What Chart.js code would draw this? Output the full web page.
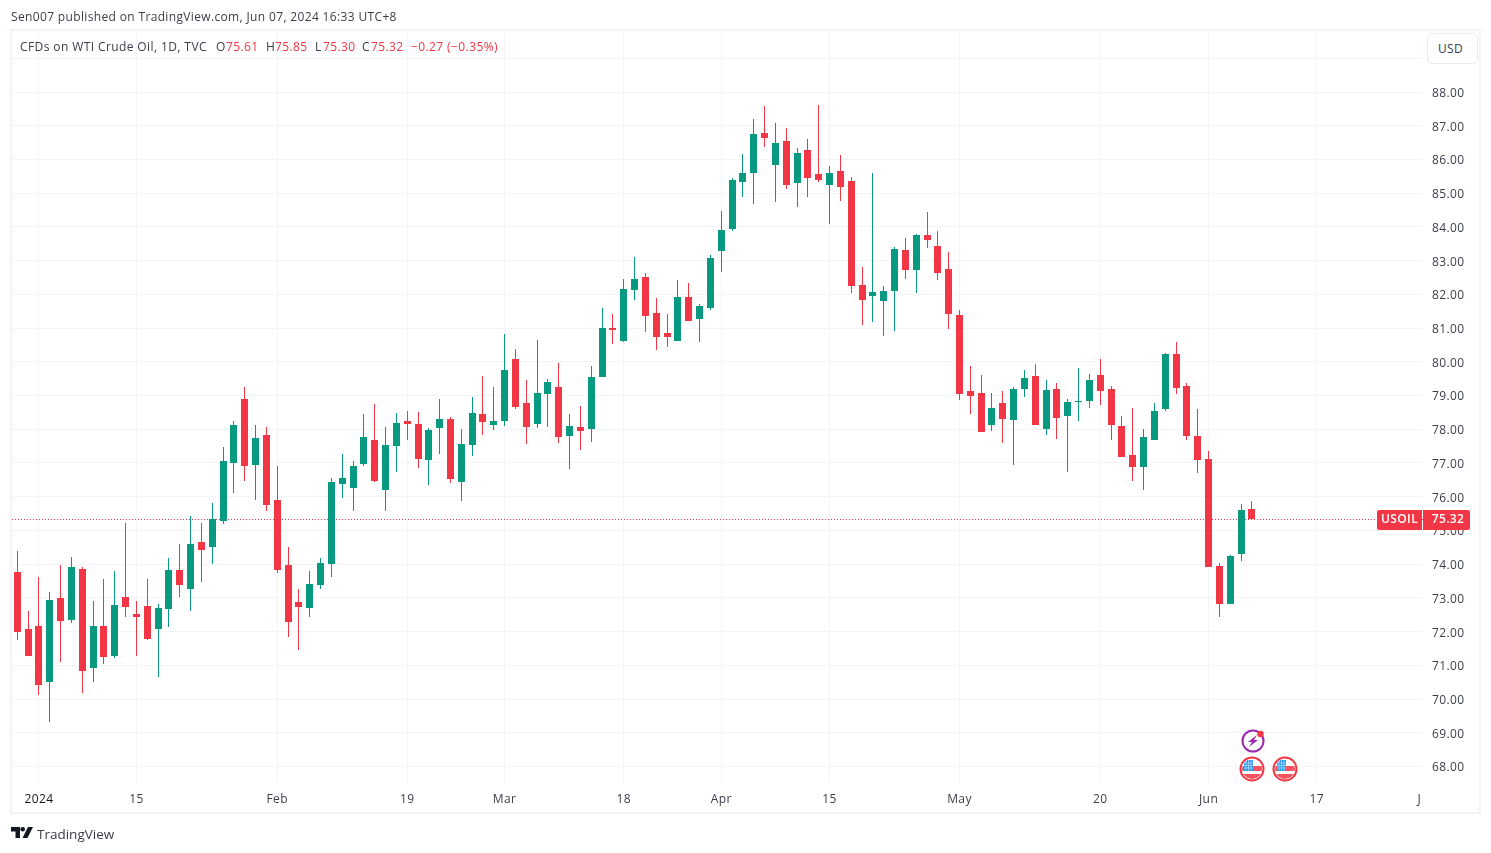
<!DOCTYPE html>
<html>
<head>
<meta charset="utf-8">
<title>USOIL</title>
<script src="https://cdn.jsdelivr.net/npm/chart.js@4"></script>
<style>
  html, body { margin: 0; padding: 0; background: #fff; overflow: hidden; }
  body { width: 1491px; height: 853px; position: relative; font-family: "Open Sans", sans-serif; color: #131722; }
  canvas { position: absolute; left: 0; top: 0; }
  #frame { position: absolute; left: 10px; top: 29px; width: 1467px; height: 781px; border: 2px solid #f0f3fa; pointer-events: none; }
  .txt { position: absolute; white-space: pre; font-size: 12px; line-height: 16px; letter-spacing: 0.35px; }
  #published { left: 11px; top: 9px; color: #3a3e49; }
  #legend span { position: absolute; top: 39px; white-space: pre; font-size: 12px; line-height: 16px; letter-spacing: 0.4px; }
  #legend .lab { color: #3a3e49; }
  #legend .val { color: #f23645; }
  #usd { position: absolute; left: 1427px; top: 33px; width: 39px; height: 29px; padding-left: 10px; border: 1px solid #e8eaf0; border-radius: 5px; line-height: 29px; font-size: 12px; letter-spacing: 0.3px; color: #3a3e49; background: #fff; }
  #brand { left: 37px; top: 825px; font-size: 13.5px; line-height: 18px; letter-spacing: 0; color: #3a3e49; }
  svg { position: absolute; overflow: visible; }
</style>
</head>
<body>
<canvas id="graphe" width="1491" height="853"></canvas>
<div id="frame"></div>
<div class="txt" id="published">Sen007 published on TradingView.com, Jun 07, 2024 16:33 UTC+8</div>
<div id="legend">
  <span class="lab" style="left:20px">CFDs on WTI Crude Oil, 1D, TVC</span>
  <span class="lab" style="left:216px">O</span><span class="val" style="left:226px">75.61</span>
  <span class="lab" style="left:266px">H</span><span class="val" style="left:275px">75.85</span>
  <span class="lab" style="left:315px">L</span><span class="val" style="left:323px">75.30</span>
  <span class="lab" style="left:362px">C</span><span class="val" style="left:371px">75.32</span>
  <span class="val" style="left:411px">−0.27 (−0.35%)</span>
</div>
<div id="usd">USD</div>

<!-- event icons under the last bars -->
<svg style="left:1252.5px;top:741px" width="1" height="1">
  <circle r="10.5" fill="#fff" stroke="#9c27b0" stroke-width="2"/>
  <path d="M4,-6 L-5,1 L-1,1 L-4,6 L5,-1 L1,-1 Z" fill="#9c27b0"/>
  <circle cx="7.5" cy="-7" r="3.2" fill="#f23645"/>
</svg>
<svg style="left:1252px;top:769px" width="1" height="1"><use href="#flag"/></svg>
<svg style="left:1285px;top:769px" width="1" height="1">
  <defs>
    <clipPath id="round"><circle r="10"/></clipPath>
    <g id="flag">
      <circle r="11.5" fill="#fff" stroke="#f23645" stroke-width="2"/>
      <g clip-path="url(#round)">
        <rect x="-10" y="-3" width="20" height="5" fill="#f7525f"/>
        <rect x="-10" y="5" width="20" height="5" fill="#f7525f"/>
        <rect x="-8" y="-9" width="9" height="11" fill="#2196f3"/>
        <path d="M-6,-9 V2 M-3.5,-9 V2 M-1,-9 V2 M-8,-6 H1 M-8,-3.5 H1 M-8,-1 H1" stroke="#cfe6fb" stroke-width="0.6" fill="none"/>
      </g>
    </g>
  </defs>
  <use href="#flag"/>
</svg>

<svg style="left:11px;top:827px" width="22" height="12">
  <path d="M0,0 H9 V11 H4.5 V4.5 H0 Z" fill="#131722"/>
  <circle cx="11.7" cy="2.3" r="2.3" fill="#131722"/>
  <path d="M17,0 H22 L16.5,11 H11.5 Z" fill="#131722"/>
</svg>
<div class="txt" id="brand">TradingView</div>

<script>
var opens = [73.75,72.06,72.14,70.48,72.97,72.32,73.84,70.90,72.14,71.25,73.00,72.50,72.74,72.06,72.65,73.81,
  73.24,74.64,74.49,75.26,76.98,78.88,76.92,77.81,75.88,73.95,72.86,72.68,73.36,73.98,76.36,76.24,
  76.95,77.67,76.18,77.49,78.23,78.14,77.07,78.02,78.29,76.42,77.52,78.44,78.11,78.23,80.07,78.76,
  78.14,79.03,79.24,77.78,78.05,77.99,79.54,80.99,80.60,82.12,82.50,81.43,80.84,80.60,81.91,81.26,
  81.58,83.27,83.93,85.32,85.59,86.77,85.82,86.54,85.29,86.27,85.56,85.23,85.65,85.35,82.26,81.94,
  81.79,82.09,83.30,82.71,83.75,83.42,82.74,81.37,79.12,79.06,78.11,78.76,78.26,79.18,79.57,77.99,
  79.18,78.38,78.79,78.82,79.59,79.18,78.08,77.22,76.87,77.67,78.59,80.22,79.27,77.78,77.10,73.93,
  72.80,74.28,75.61];
var highs = [74.37,72.59,73.60,73.15,73.95,74.19,73.89,72.89,73.54,73.78,75.20,72.89,73.54,72.80,74.16,74.58,
  75.41,75.20,75.79,77.46,78.23,79.24,78.11,78.05,76.89,74.49,73.24,73.78,74.16,76.54,77.25,77.04,
  78.44,78.73,78.05,78.47,78.53,78.50,78.02,78.88,78.35,77.99,78.94,79.56,79.24,80.81,80.37,79.45,
  80.63,79.48,79.95,78.44,78.67,79.86,81.58,81.40,82.44,83.10,82.62,81.88,81.40,82.41,82.32,81.70,
  83.15,84.46,85.44,86.15,87.19,87.58,87.07,86.92,86.33,86.60,87.60,85.80,86.12,85.47,82.80,85.59,
  82.23,83.39,83.66,83.78,84.43,83.87,83.24,81.52,79.86,79.59,79.06,79.12,79.24,79.74,79.92,79.45,
  79.36,78.88,79.80,79.62,80.07,79.27,78.38,78.62,77.99,78.76,80.25,80.57,79.36,78.59,77.34,74.02,
  74.25,75.77,75.85];
var lows = [71.73,71.25,70.10,69.30,71.08,72.23,70.16,70.48,71.02,71.19,72.41,71.25,71.73,70.63,72.11,73.00,
  72.59,73.45,73.98,75.17,76.09,76.45,75.88,75.56,73.72,71.82,71.43,72.41,73.24,73.60,75.95,75.56,
  76.89,76.42,75.56,76.72,77.67,76.83,76.33,77.25,76.39,75.86,77.19,77.81,77.96,78.08,78.59,77.55,
  78.02,78.05,77.58,76.81,77.37,77.61,79.54,80.51,80.57,81.82,80.87,80.34,80.42,80.60,81.20,80.57,
  81.52,82.65,83.87,84.88,84.67,86.36,84.73,85.11,84.58,84.88,85.32,84.07,84.76,82.03,81.08,81.17,
  80.75,80.90,82.44,82.03,83.36,82.41,80.96,78.85,78.44,77.90,77.93,77.58,76.92,78.94,78.11,77.81,
  77.70,76.72,78.23,78.62,78.70,77.67,77.16,76.45,76.18,77.67,78.53,79.03,77.67,76.69,73.90,72.41,
  72.80,74.08,75.30];
var closes = [71.97,71.25,70.39,72.92,72.29,73.89,70.81,72.14,71.22,72.77,72.71,72.41,71.76,72.68,73.81,73.36,
  74.58,74.40,75.32,77.04,78.11,76.89,77.72,75.73,73.81,72.26,72.71,73.39,74.01,76.42,76.54,76.89,
  77.75,76.45,77.52,78.17,78.14,77.10,77.96,78.29,76.51,77.55,78.47,78.20,78.23,79.74,78.65,78.05,
  79.06,79.39,77.75,78.08,77.93,79.54,80.99,80.93,82.15,82.44,81.34,80.72,80.72,81.91,81.20,81.64,
  83.07,83.90,85.38,85.59,86.74,86.63,86.48,85.23,86.18,85.44,85.38,85.59,85.17,82.23,81.82,82.06,
  82.09,83.33,82.71,83.75,83.60,82.62,81.40,79.03,78.97,77.90,78.62,78.29,79.18,79.51,78.11,79.15,
  78.32,78.79,78.82,79.45,79.12,78.11,77.16,76.87,77.76,78.53,80.22,79.21,77.78,77.07,73.90,72.80,
  74.22,75.59,75.32];

// index of the session each date label sits on, counted from the first candle
var dateTickBars = [2, 11, 24, 36, 45, 56, 65, 75, 87, 100, 110, 120, 129.45];
var dateTickLabels = ["2024", "15", "Feb", "19", "Mar", "18", "Apr", "15", "May", "20", "Jun", "17", "J"];
var lastPrice = 75.32;
var symbol = "USOIL";

var RED = "#f23645", GREEN = "#089981";
var GRID = "#f3f4f8", AXIS_TEXT = "#3a3e49";
var FONT = '"Open Sans", sans-serif';

var bodies = [], wicks = [], candleColors = [];
for (var i = 0; i < opens.length; i++) {
    bodies.push({x: i, y: [opens[i], closes[i]]});
    wicks.push({x: i, y: [lows[i], highs[i]]});
    candleColors.push(closes[i] >= opens[i] ? GREEN : RED);
}

//TradingView snaps candles to whole pixels, do the same
var snapBars = {
    id: "snapBars",
    afterDatasetsUpdate: function(chart) {
        [0, 1].forEach(function(d) {
            chart.getDatasetMeta(d).data.forEach(function(bar) {
                bar.x = Math.round(bar.x - 0.5) + 0.5;
                bar.y = Math.floor(bar.y);
                bar.base = Math.floor(bar.base);
                if (bar.base === bar.y) bar.base = bar.y + 1;
            });
        });
        chart.getDatasetMeta(2).data.forEach(function(p) {
            p.y = Math.floor(p.y) + 0.5;
        });
    },
    beforeDraw: function(chart) {
        //reference text runs a bit wider than the local font
        chart.ctx.letterSpacing = "0.4px";
    }
};

//red symbol + price tags on the price scale
var priceTag = {
    id: "priceTag",
    afterDraw: function(chart) {
        var c = chart.ctx;
        var y = Math.floor(chart.scales.y.getPixelForValue(lastPrice));
        c.save();
        c.fillStyle = RED;
        c.beginPath();
        c.roundRect(1377, y - 9, 45, 20, [2, 0, 0, 2]);
        c.roundRect(1423, y - 9, 47, 20, [0, 2, 2, 0]);
        c.fill();
        c.fillStyle = "#fff";
        c.font = "600 12px " + FONT;
        c.textAlign = "center";
        c.textBaseline = "middle";
        c.fillText(symbol, 1399.5, y + 1);
        c.fillText(lastPrice.toFixed(2), 1448, y + 1);
        c.restore();
    }
};

new Chart(document.getElementById("graphe").getContext("2d"), {
    data: {
        datasets: [
            {type: "bar", data: bodies, backgroundColor: candleColors, maxBarThickness: 7, grouped: false, order: 1},
            {type: "bar", data: wicks, backgroundColor: candleColors, maxBarThickness: 1, grouped: false, order: 2},
            {type: "line", data: [{x: -0.49, y: lastPrice}, {x: 129.8, y: lastPrice}], borderColor: RED,
             borderWidth: 1, borderDash: [1, 2], pointRadius: 0, order: 3}
        ]
    },
    options: {
        responsive: false,
        animation: false,
        devicePixelRatio: 1,
        layout: {padding: {left: 12, top: 31, right: 13, bottom: 40}},
        plugins: {legend: {display: false}, tooltip: {enabled: false}},
        scales: {
            x: {
                type: "linear",
                offset: false,
                min: -0.49,
                max: 129.8,
                afterBuildTicks: function(scale) {
                    scale.ticks = dateTickBars.map(function(v) { return {value: v}; });
                },
                afterFit: function(scale) { scale.height = 30; },
                grid: {
                    offset: false,
                    color: function(ctx) { return ctx.tick && ctx.tick.value === 129.45 ? "transparent" : GRID; },
                    drawTicks: false
                },
                border: {display: false},
                ticks: {
                    autoSkip: false,
                    maxRotation: 0,
                    padding: 9,
                    color: function(ctx) { return ctx.index === 0 ? "#131722" : AXIS_TEXT; },
                    font: function(ctx) { return {family: FONT, size: 12, weight: ctx.index === 0 ? "500" : "400"}; },
                    callback: function(v) { return dateTickLabels[dateTickBars.indexOf(v)]; }
                }
            },
            y: {
                position: "right",
                min: 67.51,
                max: 89.81,
                afterFit: function(scale) { scale.width = 55; },
                grid: {color: GRID, drawTicks: false},
                border: {display: false},
                ticks: {
                    stepSize: 1,
                    includeBounds: false,
                    padding: 9,
                    labelOffset: 1.5,
                    color: AXIS_TEXT,
                    font: {family: FONT, size: 12},
                    callback: function(v) { return v <= 88 ? v.toFixed(2) : ""; }
                }
            }
        }
    },
    plugins: [snapBars, priceTag]
});
</script>
</body>
</html>
